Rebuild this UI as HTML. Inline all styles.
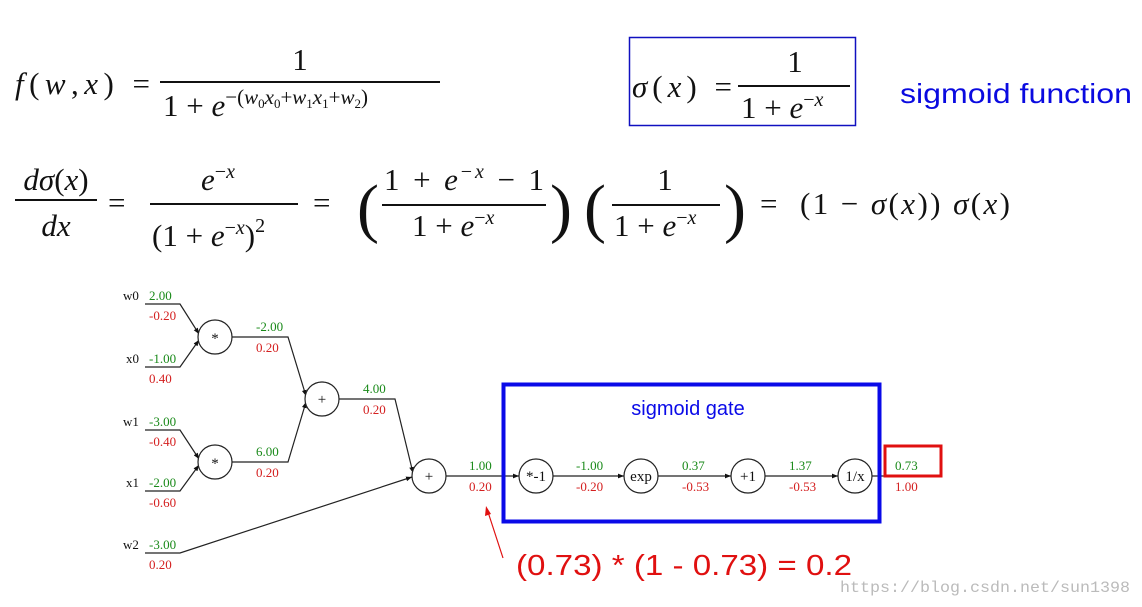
<!DOCTYPE html>
<html><head><meta charset="utf-8"><style>
html,body{margin:0;padding:0;background:#fff;}
svg{display:block}
.m{font-family:"Liberation Serif",serif;font-size:31px;fill:#111}
.i{font-style:italic}
.s{font-family:"Liberation Serif",serif;font-size:13px}
.g{fill:#1a8a1a}.r{fill:#d42020}
.n{font-family:"Liberation Serif",serif;font-size:15px;fill:#111}
</style></head><body>
<svg width="1142" height="607" viewBox="0 0 1142 607" xmlns="http://www.w3.org/2000/svg">
<!-- row 1 -->
<text x="15" y="94" class="m" textLength="135" lengthAdjust="spacing"><tspan class="i">f</tspan>(<tspan class="i">w</tspan>,<tspan class="i">x</tspan>) =</text>
<line x1="160" y1="82" x2="440" y2="82" stroke="#111" stroke-width="2"/>
<text x="300" y="70" class="m" text-anchor="middle">1</text>
<text x="163" y="116" class="m">1 + <tspan class="i">e</tspan><tspan font-size="21" dy="-12">−(<tspan class="i">w</tspan><tspan font-size="13" dy="4">0</tspan><tspan class="i" dy="-4">x</tspan><tspan font-size="13" dy="4">0</tspan><tspan dy="-4">+</tspan><tspan class="i">w</tspan><tspan font-size="13" dy="4">1</tspan><tspan class="i" dy="-4">x</tspan><tspan font-size="13" dy="4">1</tspan><tspan dy="-4">+</tspan><tspan class="i">w</tspan><tspan font-size="13" dy="4">2</tspan><tspan dy="-4">)</tspan></tspan></text>
<rect x="629.5" y="37.5" width="226" height="88" fill="none" stroke="#1010c0" stroke-width="1.5"/>
<text x="632" y="97" class="m" textLength="100" lengthAdjust="spacing"><tspan class="i">σ</tspan>(<tspan class="i">x</tspan>) =</text>
<line x1="738" y1="86" x2="850" y2="86" stroke="#111" stroke-width="2"/>
<text x="795" y="72" class="m" text-anchor="middle">1</text>
<text x="741" y="118" class="m">1 + <tspan class="i">e</tspan><tspan font-size="20" dy="-12">−<tspan class="i">x</tspan></tspan></text>
<text x="900" y="103" font-family="Liberation Sans,sans-serif" font-size="28" fill="#0a0ae0" textLength="232" lengthAdjust="spacingAndGlyphs">sigmoid function</text>
<!-- row 2 -->
<text x="56" y="190" class="m" text-anchor="middle"><tspan class="i">dσ</tspan>(<tspan class="i">x</tspan>)</text>
<line x1="15" y1="200" x2="97" y2="200" stroke="#111" stroke-width="2"/>
<text x="56" y="236" class="m i" text-anchor="middle">dx</text>
<text x="108" y="213" class="m">=</text>
<text x="218" y="190" class="m i" text-anchor="middle">e<tspan font-size="20" dy="-12" font-style="normal">−</tspan><tspan font-size="20">x</tspan></text>
<line x1="150" y1="204" x2="298" y2="204" stroke="#111" stroke-width="2"/>
<text x="152" y="246" class="m">(1 + <tspan class="i">e</tspan><tspan font-size="20" dy="-12">−<tspan class="i">x</tspan></tspan><tspan dy="12">)</tspan><tspan font-size="20" dy="-14">2</tspan></text>
<text x="313" y="213" class="m">=</text>
<text x="357" y="230" style="font-family:'Liberation Serif',serif;font-size:66px;fill:#111">(</text>
<text x="384" y="190" class="m" textLength="160" lengthAdjust="spacing">1 + <tspan class="i">e</tspan><tspan font-size="20" dy="-12">−<tspan class="i">x</tspan></tspan><tspan dy="12"> − 1</tspan></text>
<line x1="382" y1="205" x2="546" y2="205" stroke="#111" stroke-width="2"/>
<text x="412" y="236" class="m">1 + <tspan class="i">e</tspan><tspan font-size="20" dy="-12">−<tspan class="i">x</tspan></tspan></text>
<text x="550" y="230" style="font-family:'Liberation Serif',serif;font-size:66px;fill:#111">)</text>
<text x="584" y="230" style="font-family:'Liberation Serif',serif;font-size:66px;fill:#111">(</text>
<text x="665" y="190" class="m" text-anchor="middle">1</text>
<line x1="612" y1="205" x2="720" y2="205" stroke="#111" stroke-width="2"/>
<text x="614" y="236" class="m">1 + <tspan class="i">e</tspan><tspan font-size="20" dy="-12">−<tspan class="i">x</tspan></tspan></text>
<text x="724" y="230" style="font-family:'Liberation Serif',serif;font-size:66px;fill:#111">)</text>
<text x="760" y="214" class="m">=</text>
<text x="800" y="214" class="m" textLength="210" lengthAdjust="spacing">(1 − <tspan class="i">σ</tspan>(<tspan class="i">x</tspan>)) <tspan class="i">σ</tspan>(<tspan class="i">x</tspan>)</text>

<!-- graph -->
<defs><marker id="a" markerWidth="6" markerHeight="6" refX="5" refY="3" orient="auto"><path d="M0,1 L5,3 L0,5z" fill="#111"/></marker></defs>
<g stroke="#222" stroke-width="1.2" fill="none">
<polyline points="145,304 180,304 199,334" marker-end="url(#a)"/>
<polyline points="145,367 180,367 199,340" marker-end="url(#a)"/>
<polyline points="145,430 180,430 199,459" marker-end="url(#a)"/>
<polyline points="145,491 180,491 199,465" marker-end="url(#a)"/>
<polyline points="145,553 180,553 412,477" marker-end="url(#a)"/>
<polyline points="232,337 288,337 306,396" marker-end="url(#a)"/>
<polyline points="232,462 288,462 306,402" marker-end="url(#a)"/>
<polyline points="339,399 395,399 413,473" marker-end="url(#a)"/>
<polyline points="446,476 519,476" marker-end="url(#a)"/>
<polyline points="553,476 624,476" marker-end="url(#a)"/>
<polyline points="658,476 731,476" marker-end="url(#a)"/>
<polyline points="765,476 838,476" marker-end="url(#a)"/>
<polyline points="872,476 890,476"/>
<circle cx="215" cy="337" r="17" fill="#fff"/>
<circle cx="215" cy="462" r="17" fill="#fff"/>
<circle cx="322" cy="399" r="17" fill="#fff"/>
<circle cx="429" cy="476" r="17" fill="#fff"/>
<circle cx="536" cy="476" r="17" fill="#fff"/>
<circle cx="641" cy="476" r="17" fill="#fff"/>
<circle cx="748" cy="476" r="17" fill="#fff"/>
<circle cx="855" cy="476" r="17" fill="#fff"/>
</g>
<g class="n" text-anchor="middle">
<text x="215" y="343">*</text><text x="215" y="468">*</text>
<text x="322" y="404">+</text><text x="429" y="481">+</text>
<text x="536" y="481">*-1</text><text x="641" y="481">exp</text>
<text x="748" y="481">+1</text><text x="855" y="481">1/x</text>
</g>
<g class="s" fill="#111">
<text x="123" y="300">w0</text><text x="126" y="363">x0</text>
<text x="123" y="426">w1</text><text x="126" y="487">x1</text>
<text x="123" y="549">w2</text>
</g>
<g class="s">
<text x="149" y="300" class="g">2.00</text><text x="149" y="320" class="r">-0.20</text>
<text x="149" y="363" class="g">-1.00</text><text x="149" y="383" class="r">0.40</text>
<text x="149" y="426" class="g">-3.00</text><text x="149" y="446" class="r">-0.40</text>
<text x="149" y="487" class="g">-2.00</text><text x="149" y="507" class="r">-0.60</text>
<text x="149" y="549" class="g">-3.00</text><text x="149" y="569" class="r">0.20</text>
<text x="256" y="331" class="g">-2.00</text><text x="256" y="352" class="r">0.20</text>
<text x="256" y="456" class="g">6.00</text><text x="256" y="477" class="r">0.20</text>
<text x="363" y="393" class="g">4.00</text><text x="363" y="414" class="r">0.20</text>
<text x="469" y="470" class="g">1.00</text><text x="469" y="491" class="r">0.20</text>
<text x="576" y="470" class="g">-1.00</text><text x="576" y="491" class="r">-0.20</text>
<text x="682" y="470" class="g">0.37</text><text x="682" y="491" class="r">-0.53</text>
<text x="789" y="470" class="g">1.37</text><text x="789" y="491" class="r">-0.53</text>
<text x="895" y="470" class="g">0.73</text><text x="895" y="491" class="r">1.00</text>
</g>
<rect x="503.5" y="384.5" width="376" height="137" fill="none" stroke="#0a0ae8" stroke-width="4"/>
<text x="688" y="415" text-anchor="middle" font-family="Liberation Sans,sans-serif" font-size="20" fill="#0a0ae8">sigmoid gate</text>
<rect x="885" y="446" width="56" height="30" fill="none" stroke="#e01010" stroke-width="3"/>
<line x1="503" y1="558" x2="488" y2="512" stroke="#e01010" stroke-width="1.2"/>
<path d="M486,506 L485,516 L491,514z" fill="#e01010"/>
<text x="516" y="575" font-family="Liberation Sans,sans-serif" font-size="29" fill="#e01010" textLength="336" lengthAdjust="spacingAndGlyphs">(0.73) * (1 - 0.73) = 0.2</text>
<text x="840" y="592" font-family="Liberation Mono,monospace" font-size="16" fill="#bbb" textLength="290" lengthAdjust="spacingAndGlyphs">https://blog.csdn.net/sun1398</text>
</svg>
</body></html>
